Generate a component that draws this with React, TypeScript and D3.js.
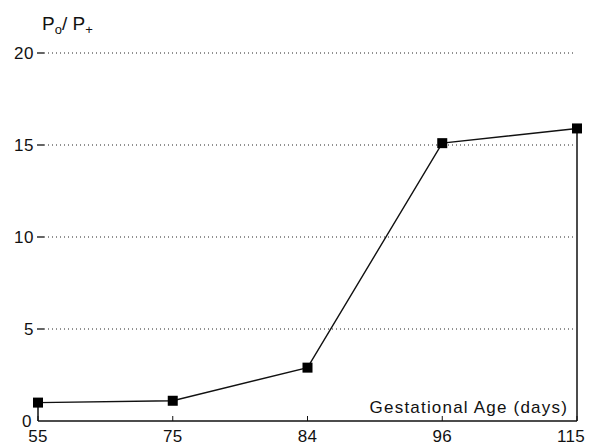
import React, { useRef, useEffect } from 'react';
import * as d3 from 'd3';

const ages = ['55', '75', '84', '96', '115'];
const ratio = [1.0, 1.1, 2.9, 15.1, 15.9];
const yTicks = [0, 5, 10, 15, 20];
const gridTicks = [5, 10, 15, 20];

const App = () => {
  const ref = useRef<SVGSVGElement | null>(null);

  useEffect(() => {
    const svg = d3.select(ref.current);
    svg.selectAll('*').remove();
    const W = 589, H = 447;
    const left = 38, right = 577, top = 53, bottom = 421;
    const font = 'Liberation Sans, Arial, sans-serif';

    const x = d3.scalePoint<string>().domain(ages).range([left, right]);
    const y = d3.scaleLinear().domain([0, 20]).range([bottom, top]);

    svg.append('rect').attr('width', W).attr('height', H).attr('fill', '#fff');

    // gridlines
    svg.selectAll('.grid').data(gridTicks).enter().append('line')
      .attr('x1', left + 6).attr('x2', right - 2)
      .attr('y1', d => y(d)).attr('y2', d => y(d))
      .attr('stroke', '#222').attr('stroke-width', 1)
      .attr('stroke-dasharray', '1 3');

    // y tick dashes
    svg.selectAll('.ytick').data(gridTicks).enter().append('line')
      .attr('x1', left - 1).attr('x2', left + 6)
      .attr('y1', d => y(d)).attr('y2', d => y(d))
      .attr('stroke', '#111').attr('stroke-width', 1.3);

    svg.selectAll('.ylab').data(yTicks).enter().append('text')
      .attr('x', d => d === 0 ? left - 6 : left - 4)
      .attr('y', d => y(d) + 6)
      .attr('text-anchor', 'end')
      .attr('font-family', font).attr('font-size', 17)
      .attr('letter-spacing', 0.5)
      .attr('fill', '#111')
      .text(d => d);

    // x axis baseline
    svg.append('line')
      .attr('x1', left).attr('x2', right)
      .attr('y1', bottom).attr('y2', bottom)
      .attr('stroke', '#111').attr('stroke-width', 1.5);

    svg.selectAll('.xtick').data(ages).enter().append('line')
      .attr('x1', d => x(d)!).attr('x2', d => x(d)!)
      .attr('y1', bottom).attr('y2', bottom - 5)
      .attr('stroke', '#111').attr('stroke-width', 1);

    svg.selectAll('.xlab').data(ages).enter().append('text')
      .attr('x', d => d === '115' ? right + 8 : x(d)!)
      .attr('y', bottom + 21)
      .attr('text-anchor', d => d === '115' ? 'end' : 'middle')
      .attr('font-family', font).attr('font-size', 17)
      .attr('letter-spacing', 0.3)
      .attr('fill', '#111')
      .text(d => d);

    const pts = ages.map((a, i) => ({ a, v: ratio[i] }));

    // drop lines at the ends
    [pts[0], pts[pts.length - 1]].forEach(p => {
      svg.append('line')
        .attr('x1', x(p.a)!).attr('x2', x(p.a)!)
        .attr('y1', y(p.v)).attr('y2', bottom)
        .attr('stroke', '#111').attr('stroke-width', 1.5);
    });

    const line = d3.line<{ a: string; v: number }>()
      .x(d => x(d.a)!)
      .y(d => y(d.v));

    svg.append('path')
      .datum(pts)
      .attr('fill', 'none')
      .attr('stroke', '#111')
      .attr('stroke-width', 1.4)
      .attr('d', line);

    svg.selectAll('.pt').data(pts).enter().append('rect')
      .attr('x', d => x(d.a)! - 5).attr('y', d => y(d.v) - 5)
      .attr('width', 10).attr('height', 10)
      .attr('fill', '#000');

    // axis titles
    const t = svg.append('text')
      .attr('x', 42).attr('y', 30)
      .attr('font-family', font).attr('font-size', 19)
      .attr('fill', '#111');
    t.append('tspan').text('P');
    t.append('tspan').attr('font-size', 13).attr('dy', 4).text('o');
    t.append('tspan').attr('dy', -4).text('/ P');
    t.append('tspan').attr('font-size', 13).attr('dy', 4).text('+');

    svg.append('text')
      .attr('x', 568).attr('y', 413)
      .attr('text-anchor', 'end')
      .attr('font-family', font).attr('font-size', 17)
      .attr('letter-spacing', 1.2)
      .attr('fill', '#111')
      .text('Gestational Age (days)');
  }, []);

  return (
    <svg ref={ref} width={589} height={447}
      style={{ position: 'absolute', left: 0, top: 0 }} />
  );
};

export default App;
